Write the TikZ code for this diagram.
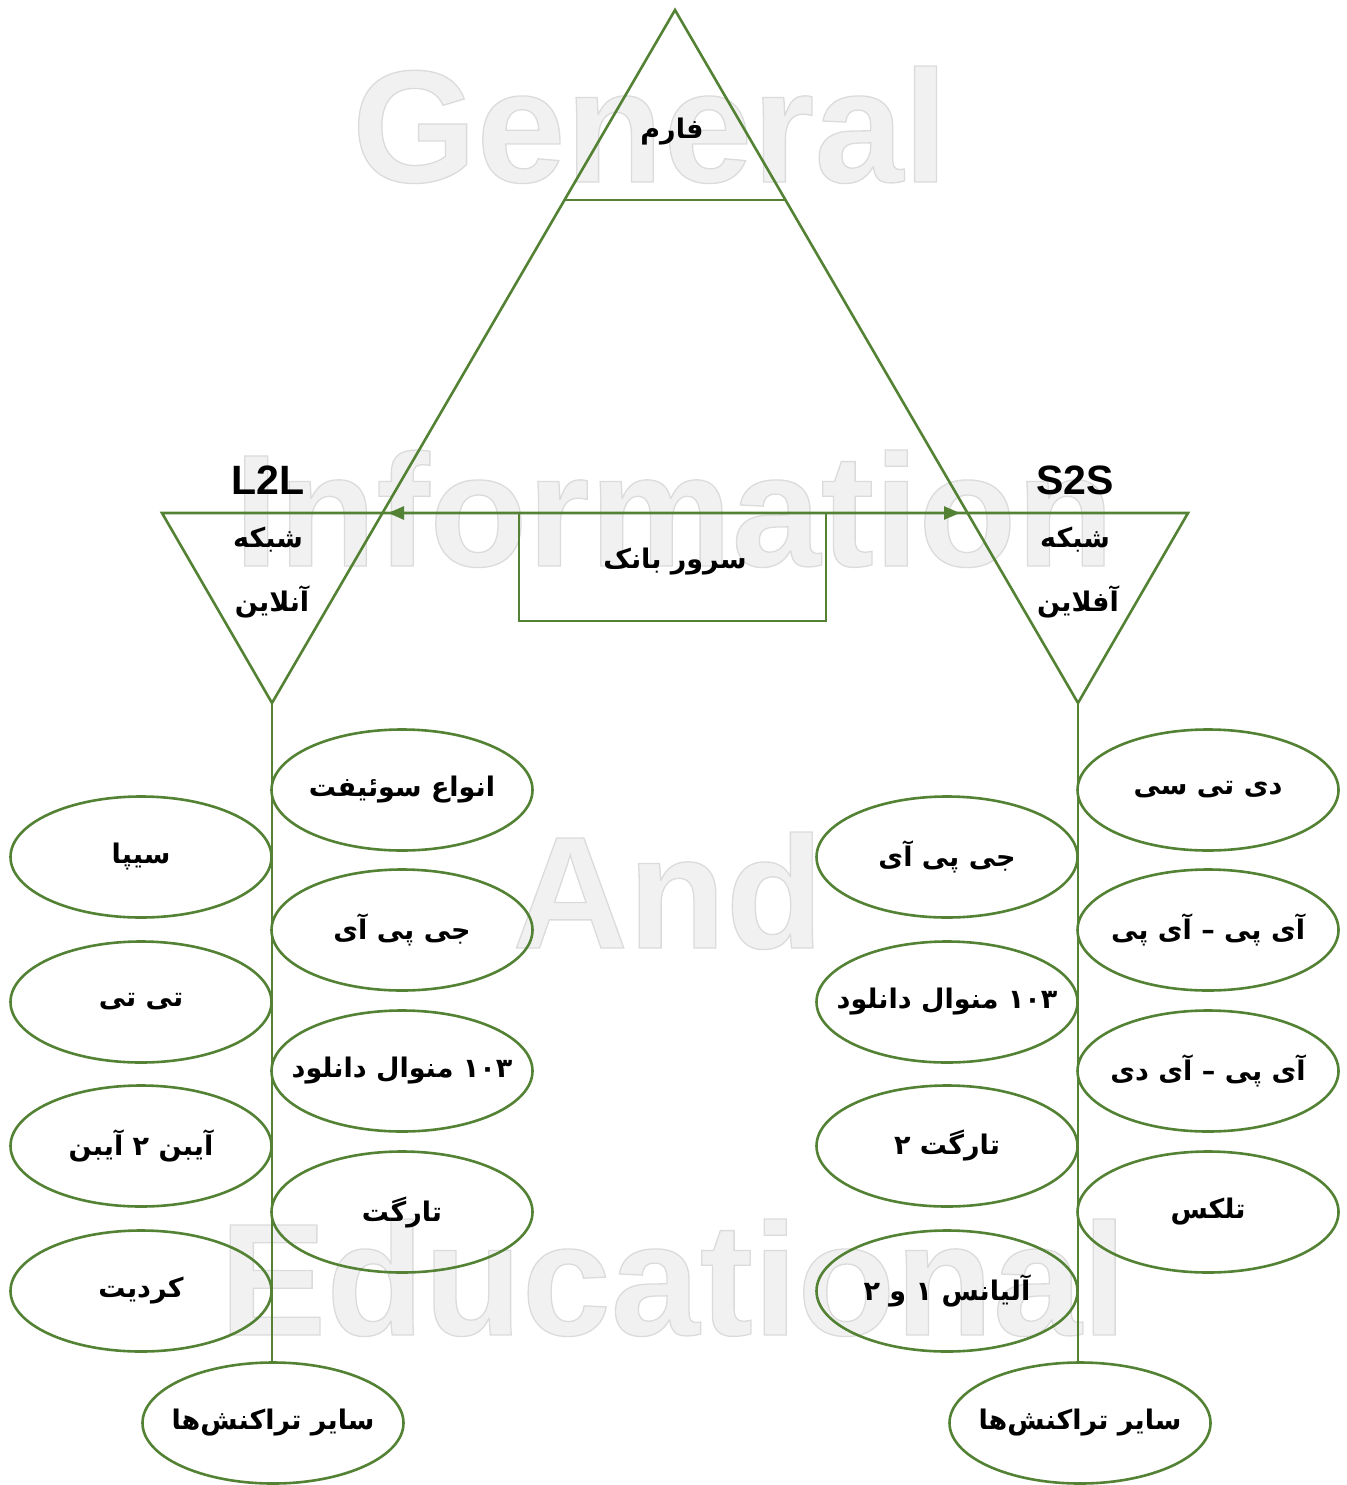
\documentclass[tikz,border=0pt]{standalone}
\usepackage{fontspec}
\usetikzlibrary{shapes.geometric,arrows.meta}
\TeXXeTstate=1
\newfontfamily\fafont[Script=Arabic]{DejaVu Sans}
\newfontfamily\wmfont{Liberation Sans}
\definecolor{grn}{RGB}{84,130,53}
\definecolor{wmfill}{RGB}{241,241,241}
\newcommand\wmtext[1]{\special{pdf:literal direct 2 Tr 1.3 w 0.86 0.86 0.86 RG}#1\special{pdf:literal direct 0 Tr}}
\begin{document}
\begin{tikzpicture}[x=1pt,y=-1pt,
  line/.style={draw=grn,line width=2.6pt},
  oval/.style={ellipse,draw=grn,line width=2.6pt,minimum width=261pt,minimum height=121pt,inner sep=0pt},
  fa/.style={font=\fontsize{27}{31}\selectfont\fafont\bfseries,text=black,inner sep=0pt},
  lat/.style={font=\fontsize{41}{43}\selectfont\wmfont\bfseries,text=black,inner sep=0pt},
  wm/.style={font=\fontsize{160}{160}\selectfont\wmfont\bfseries,text=wmfill,anchor=base,inner sep=0pt},
  greentip/.tip={Triangle[length=16pt,width=13pt]}
]
\useasboundingbox (0,0) rectangle (1346,1485);
% watermark
\node[wm] (wm1) at (650,182) {\wmtext{General}};
\node[wm] (wm2) at (674,566) {\wmtext{Information}};
\node[wm] (wm3) at (668,948) {\wmtext{And}};
\node[wm] (wm4) at (673,1335) {\wmtext{Educational}};

% coordinates
\coordinate (apex) at (675,10);
\coordinate (Lbot) at (272,703);
\coordinate (Rbot) at (1078,703);
\coordinate (LTL) at (162,513);
\coordinate (RTR) at (1188,513);
\coordinate (Lx) at (388,513);
\coordinate (Rx) at (960,513);
\coordinate (F1) at (564.5,200);
\coordinate (F2) at (785.5,200);

% triangles
\draw[line] (Lbot) -- (apex) -- (Rbot);
\draw[line] (F1) -- (F2);
\draw[line] (Lbot) -- (LTL) -- (RTR) -- (Rbot);
\draw[line,greentip-greentip] (Lx) -- (Rx);

% bank server box
\node[draw=grn,line width=2.6pt,minimum width=307pt,minimum height=108pt,inner sep=0pt] (bank) at (672.5,567) {};
\node[fa] (banktxt) at (675,562) {\beginR سرور بانک\endR};

% labels
\node[fa] (farm) at (672,132) {\beginR فارم\endR};
\node[lat] (l2l) at (268,480) {L2L};
\node[lat] (s2s) at (1075,480) {S2S};
\node[fa] (sh1) at (268,540) {\beginR شبکه\endR};
\node[fa] (on) at (272,602) {\beginR آنلاین\endR};
\node[fa] (sh2) at (1075,540) {\beginR شبکه\endR};
\node[fa] (off) at (1078,602) {\beginR آفلاین\endR};

% left network ellipses
\node[oval,label={[fa]center:\beginR سیپا\endR}] (l1) at (141,857) {};
\node[oval,label={[fa]center:\beginR تی تی\endR}] (l2) at (141,1002) {};
\node[oval,label={[fa]center:\beginR آیبن ۲ آیبن\endR}] (l3) at (141,1146) {};
\node[oval,label={[fa]center:\beginR کردیت\endR}] (l4) at (141,1291) {};
\node[oval,label={[fa]center:\beginR انواع سوئیفت\endR}] (l5) at (402,790) {};
\node[oval,label={[fa]center:\beginR جی پی آی\endR}] (l6) at (402,930) {};
\node[oval,label={[fa]center:\beginR ۱۰۳ منوال دانلود\endR}] (l7) at (402,1071) {};
\node[oval,label={[fa]center:\beginR تارگت\endR}] (l8) at (402,1212) {};
\node[oval,label={[fa]center:\beginR سایر تراکنش‌ها\endR}] (lother) at (273,1423) {};

% right network ellipses
\node[oval,label={[fa]center:\beginR جی پی آی\endR}] (r1) at (947,857) {};
\node[oval,label={[fa]center:\beginR ۱۰۳ منوال دانلود\endR}] (r2) at (947,1002) {};
\node[oval,label={[fa]center:\beginR تارگت ۲\endR}] (r3) at (947,1146) {};
\node[oval,label={[fa]center:\beginR آلیانس ۱ و ۲\endR}] (r4) at (947,1291) {};
\node[oval,label={[fa]center:\beginR دی تی سی\endR}] (r5) at (1208,790) {};
\node[oval,label={[fa]center:\beginR آی پی – آی پی\endR}] (r6) at (1208,930) {};
\node[oval,label={[fa]center:\beginR آی پی – آی دی\endR}] (r7) at (1208,1071) {};
\node[oval,label={[fa]center:\beginR تلکس\endR}] (r8) at (1208,1212) {};
\node[oval,label={[fa]center:\beginR سایر تراکنش‌ها\endR}] (rother) at (1080,1423) {};

% stems
\draw[line] (Lbot) -- (Lbot |- lother.north);
\draw[line] (Rbot) -- (Rbot |- rother.north);
\end{tikzpicture}
\end{document}
